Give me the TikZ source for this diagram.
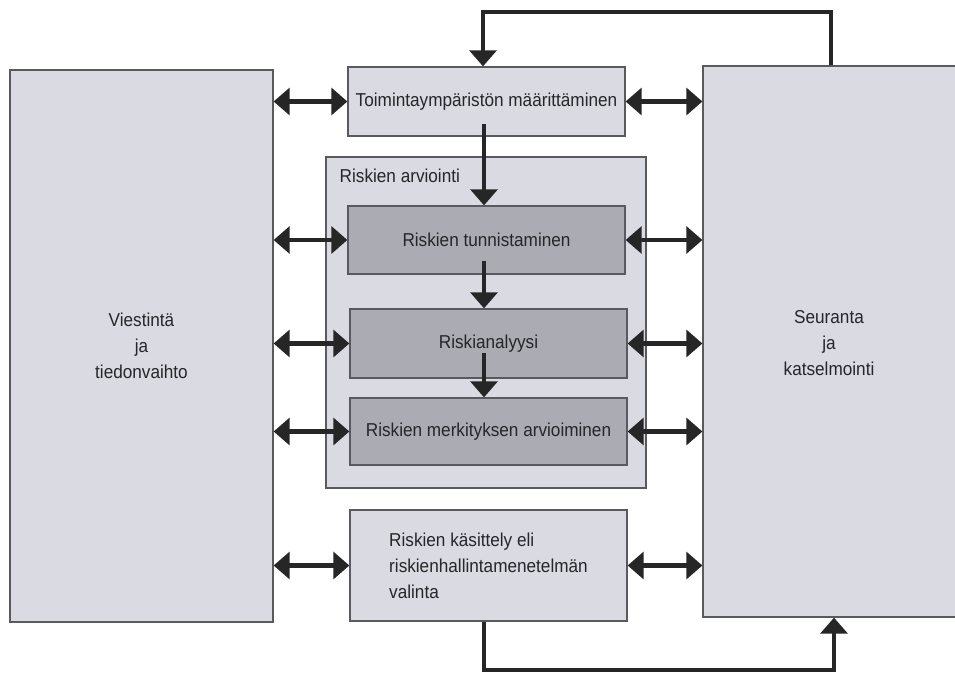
\documentclass[tikz,border=0pt]{standalone}
\usepackage{fontspec}
\setmainfont{Liberation Sans}[FakeStretch=0.92]
\usetikzlibrary{arrows.meta,fit,positioning}
\definecolor{lightbox}{HTML}{DADAE3}
\definecolor{darkbox}{HTML}{ABABB4}
\definecolor{edgegray}{HTML}{5A5A5E}
\definecolor{txt}{HTML}{262628}
\tikzset{
  lightnode/.style={draw=edgegray, line width=0.9pt, fill=lightbox, inner sep=0pt},
  darknode/.style={draw=edgegray, line width=0.9pt, fill=darkbox, inner sep=0pt},
  lbl/.style={text=txt, font=\fontsize{14}{19.5}\selectfont},
  flow/.style={line width=3.2pt, draw=black!85, -{Triangle[width=20pt,length=12pt]}},
  dbl/.style={line width=3.2pt, draw=black!85, {Triangle[width=20pt,length=12pt]}-{Triangle[width=20pt,length=12pt]}},
  loop/.style={line width=3.2pt, draw=black!85, line join=miter},
}
\begin{document}
\begin{tikzpicture}[x=0.75pt,y=-0.75pt]
\clip (0,0) rectangle (955,673);
\fill[white] (0,0) rectangle (955,673);
% outer boxes
\node[lightnode, fit={(10,70) (273,622)}] (vt) {};
\node[lbl, align=center] at (vt.center) {Viestintä\\ja\\tiedonvaihto};
\node[lightnode, fit={(703,66) (962,617)}] (sk) {};
\node[lbl, align=center] at (829,343) {Seuranta\\ja\\katselmointi};
% container
\node[lightnode, fit={(326,157) (646,488)}] (ra) {};
\node[lbl, anchor=base west] at (335,183) {Riskien arviointi};
% process boxes
\node[lightnode, fit={(348,67) (625,136)}] (top) {};
\node[lbl] at (top.center) {Toimintaympäristön määrittäminen};
\node[darknode, fit={(348,206) (625,274)}] (tun) {};
\node[lbl] at (tun.center) {Riskien tunnistaminen};
\node[darknode, fit={(350,309) (627,378)}] (ana) {};
\node[lbl] at (ana.center) {Riskianalyysi};
\node[darknode, fit={(350,398) (627,465)}] (mer) {};
\node[lbl] at (mer.center) {Riskien merkityksen arvioiminen};
\node[lightnode, fit={(350,510) (627,621)}] (kas) {};
\node[lbl, align=left] at (kas.center) {Riskien käsittely eli\\riskienhallintamenetelmän\\valinta};
% vertical flow
\coordinate (fx) at (484,0);
\draw[flow] ([yshift=-17pt]top.center -| fx) -- (tun.north -| fx);
\draw[flow] ([yshift=-15.5pt]tun.center -| fx) -- (ana.north -| fx);
\draw[flow] ([yshift=-7pt]ana.center -| fx) -- (mer.north -| fx);
% double arrows left
\draw[dbl] (vt.east |- top.west) -- (top.west);
\draw[dbl] (vt.east |- tun.west) -- (tun.west);
\draw[dbl] (vt.east |- ana.west) -- (ana.west);
\draw[dbl] (vt.east |- mer.west) -- (mer.west);
\draw[dbl] (vt.east |- kas.west) -- (kas.west);
% double arrows right
\draw[dbl] (top.east) -- (top.east -| sk.west);
\draw[dbl] (tun.east) -- (tun.east -| sk.west);
\draw[dbl] (ana.east) -- (ana.east -| sk.west);
\draw[dbl] (mer.east) -- (mer.east -| sk.west);
\draw[dbl] (kas.east) -- (kas.east -| sk.west);
% loops
\coordinate (tl) at (483,12);
\coordinate (tr) at (831,12);
\draw[loop, -{Triangle[width=20pt,length=12pt]}] (tr |- sk.north) -- (tr) -- (tl) -- (tl |- top.north);
\coordinate (bl) at (484,670);
\coordinate (br) at (834,670);
\draw[loop, -{Triangle[width=20pt,length=12pt]}] (bl |- kas.south) -- (bl) -- (br) -- (br |- sk.south);
\end{tikzpicture}
\end{document}
